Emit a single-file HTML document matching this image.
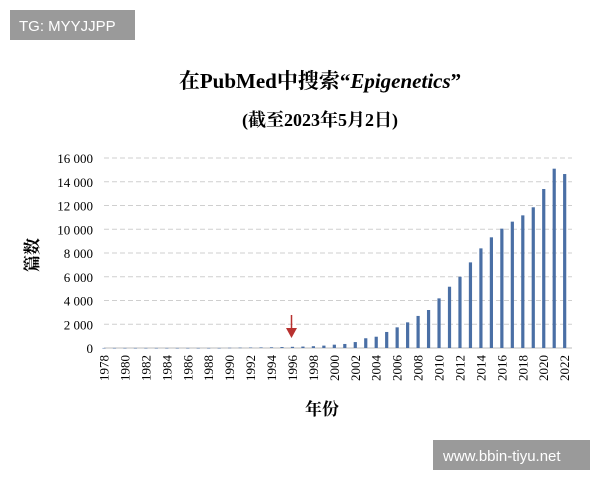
<!DOCTYPE html>
<html><head><meta charset="utf-8"><style>
body{margin:0;background:#fff;}
svg text{font-family:"Liberation Serif","Noto Serif CJK SC",serif;}
</style></head><body>
<svg width="600" height="480" viewBox="0 0 600 480" xmlns="http://www.w3.org/2000/svg">
<rect x="0" y="0" width="600" height="480" fill="#fff"/>
<rect x="10" y="10" width="125" height="30" fill="#9a9a9a"/>
<text x="19" y="31" fill="#fff" font-size="15" style="font-family:'Liberation Sans',sans-serif">TG: MYYJJPP</text>
<rect x="433" y="440" width="157" height="30" fill="#9a9a9a"/>
<text x="443" y="461" fill="#fff" font-size="15" style="font-family:'Liberation Sans',sans-serif">www.bbin-tiyu.net</text>
<text x="320" y="88" text-anchor="middle" font-size="21" font-weight="bold">在PubMed中搜索“<tspan font-style="italic">Epigenetics</tspan>”</text>
<text x="320" y="126" text-anchor="middle" font-size="18" font-weight="bold">(截至2023年5月2日)</text>
<text transform="translate(38,255) rotate(-90)" text-anchor="middle" font-size="17" font-weight="bold">篇数</text>
<text x="322" y="415" text-anchor="middle" font-size="17" font-weight="bold">年份</text>
<g id="grid"></g><g id="bars"></g><g id="labels"></g>
<g>
<line x1="291.5" y1="315" x2="291.5" y2="330" stroke="#b8312f" stroke-width="1.5"/>
<polygon points="286,328 297,328 291.5,338" fill="#b8312f"/>
</g>
</svg>
<script>
const years=[];for(let y=1978;y<=2022;y++)years.push(y);
const counts=[5,5,5,5,5,5,5,5,5,5,5,5,20,30,40,50,60,80,100,120,150,200,280,340,500,820,950,1350,1740,2160,2700,3200,4180,5160,6000,7210,8390,9320,10050,10640,11170,11850,13390,15100,14650];
const yTicks=[0,2000,4000,6000,8000,10000,12000,14000,16000];
const yTickLabels=["0","2 000","4 000","6 000","8 000","10 000","12 000","14 000","16 000"];
const NS="http://www.w3.org/2000/svg";
const yS=v=>348-v/16000*190;
const xS=i=>104+i*10.47;
const grid=document.getElementById('grid'),bars=document.getElementById('bars'),labels=document.getElementById('labels');
yTicks.forEach((t,i)=>{
 const l=document.createElementNS(NS,'line');
 l.setAttribute('x1',104);l.setAttribute('x2',572);l.setAttribute('y1',yS(t));l.setAttribute('y2',yS(t));
 l.setAttribute('stroke',i===0?'#bbb':'#cfcfcf');if(i>0)l.setAttribute('stroke-dasharray','5,3');
 
 
 grid.appendChild(l);
 const tx=document.createElementNS(NS,'text');
 tx.setAttribute('x',93);tx.setAttribute('y',yS(t)+5);tx.setAttribute('text-anchor','end');tx.setAttribute('font-size','13');
 tx.textContent=yTickLabels[i];
 
 
 labels.appendChild(tx);
});
years.forEach((yr,i)=>{
 const r=document.createElementNS(NS,'rect');
 const top=yS(counts[i]);
 r.setAttribute('x',xS(i)-1.6);r.setAttribute('width',3.2);r.setAttribute('y',top);r.setAttribute('height',Math.max(348-top,0.5));
 r.setAttribute('fill','#4a6fa5');
 
 
 bars.appendChild(r);
 if(yr%2===0){
  const t=document.createElementNS(NS,'text');
  t.setAttribute('transform','translate('+(xS(i)+4.5)+',355) rotate(-90)');
  t.setAttribute('text-anchor','end');t.setAttribute('font-size','13');
  t.textContent=yr;
  
  
  labels.appendChild(t);
 }
});
</script>
</body></html>
